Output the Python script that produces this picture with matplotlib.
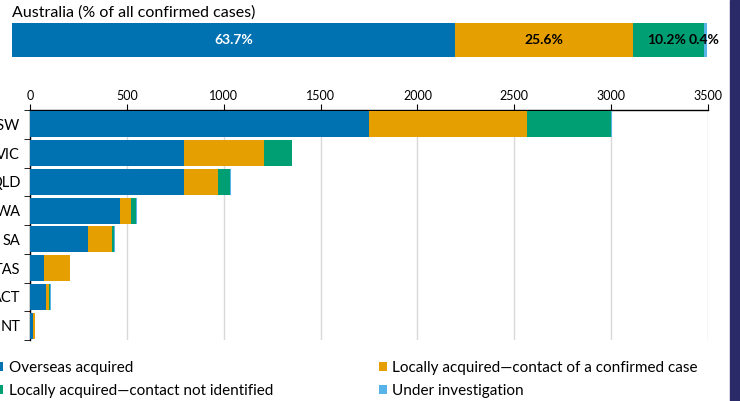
import matplotlib
matplotlib.use("Agg")
import matplotlib.pyplot as plt
from matplotlib.patches import Rectangle
import numpy as np

plt.rcParams['font.family'] = ['Lato', 'DejaVu Sans']

states = ["NSW", "VIC", "QLD", "WA", "SA", "TAS", "ACT", "NT"]
overseas = [1750, 793, 793, 466, 297, 74, 83, 17]
local_contact = [815, 414, 178, 56, 127, 131, 17, 9]
local_unknown = [436, 143, 64, 26, 12, 2, 5, 1]
under_inv = [5, 3, 3, 2, 1, 1, 2, 1]

series_names = ["Overseas acquired",
                "Locally acquired\u2014contact of a confirmed case",
                "Locally acquired\u2014contact not identified",
                "Under investigation"]
colors = ["#0072B2", "#E69F00", "#009E73", "#56B4E9"]

aus_pct = [63.7, 25.6, 10.2, 0.4]
aus_title = "Australia (% of all confirmed cases)"
xticks = [0, 500, 1000, 1500, 2000, 2500, 3000, 3500]

W, H = 740, 401
fig = plt.figure(figsize=(W / 100, H / 100), dpi=100)

# Top percentage bar
axt = fig.add_axes([12 / W, 1 - 57 / H, (707 - 12) / W, 34 / H])
left = 0
txt_colors = ["white", "black", "black", "black"]
for i, (p, c) in enumerate(zip(aus_pct, colors)):
    axt.barh(0, p, left=left, color=c, height=1.0, edgecolor='none')
    if i < 2:
        axt.text(left + p / 2, 0, f"{p}%", ha='center', va='center',
                 color=txt_colors[i], fontsize=10, fontweight='bold')
    elif i == 2:
        axt.text(left + p / 2 - 0.3, 0, f"{p}%", ha='center', va='center',
                 color=txt_colors[i], fontsize=10, fontweight='bold')
    else:
        axt.text(left + p / 2 - 2.4, 0, f"{p}%", ha='left', va='center',
                 color=txt_colors[i], fontsize=10, fontweight='bold', clip_on=False)
    left += p
axt.set_xlim(0, sum(aus_pct))
axt.set_ylim(-0.5, 0.5)
axt.axis('off')
fig.text(12 / W, 1 - 13 / H, aus_title, ha='left', va='center', fontsize=11.5)

# Main stacked bar chart
ax = fig.add_axes([30 / W, 1 - 340 / H, (708 - 30) / W, 230 / H])
y = np.arange(len(states))
lefts = np.zeros(len(states))
handles = []
for vals, c, name in zip([overseas, local_contact, local_unknown, under_inv], colors, series_names):
    b = ax.barh(y, vals, left=lefts, color=c, height=0.9, label=name, zorder=3)
    handles.append(b)
    lefts += np.array(vals)

ax.set_xlim(0, 3500)
ax.set_ylim(len(states) - 0.5, -0.5)
ax.set_xticks(xticks)
ax.xaxis.tick_top()
ax.tick_params(axis='x', direction='out', length=4, labelsize=9, pad=2, color='black')
ax.set_yticks(y)
ax.set_yticklabels(states, fontsize=10.5)
ax.tick_params(axis='y', length=0, pad=7)
ax.set_yticks(np.arange(-0.5, len(states), 1), minor=True)
ax.tick_params(axis='y', which='minor', length=4, direction='out', color='black')
ax.grid(axis='x', color='#d9d9d9', linewidth=1, zorder=0)
for s in ['right', 'bottom']:
    ax.spines[s].set_visible(False)
ax.spines['top'].set_linewidth(1)
ax.spines['left'].set_linewidth(1)

order = [0, 2, 1, 3]
fig.legend([handles[i] for i in order], [series_names[i] for i in order],
           ncol=2, loc='upper left', bbox_to_anchor=(-5 / W, 1 - 361 / H),
           frameon=False, fontsize=11, handlelength=0.55, handleheight=0.55,
           handletextpad=0.35, columnspacing=6.9, labelspacing=0.6,
           borderaxespad=0, borderpad=0)

fig.patches.append(Rectangle((730 / W, 0), 10 / W, 1, transform=fig.transFigure,
                             color='#2b2a68', zorder=10))

fig.savefig("out.png", dpi=100)
